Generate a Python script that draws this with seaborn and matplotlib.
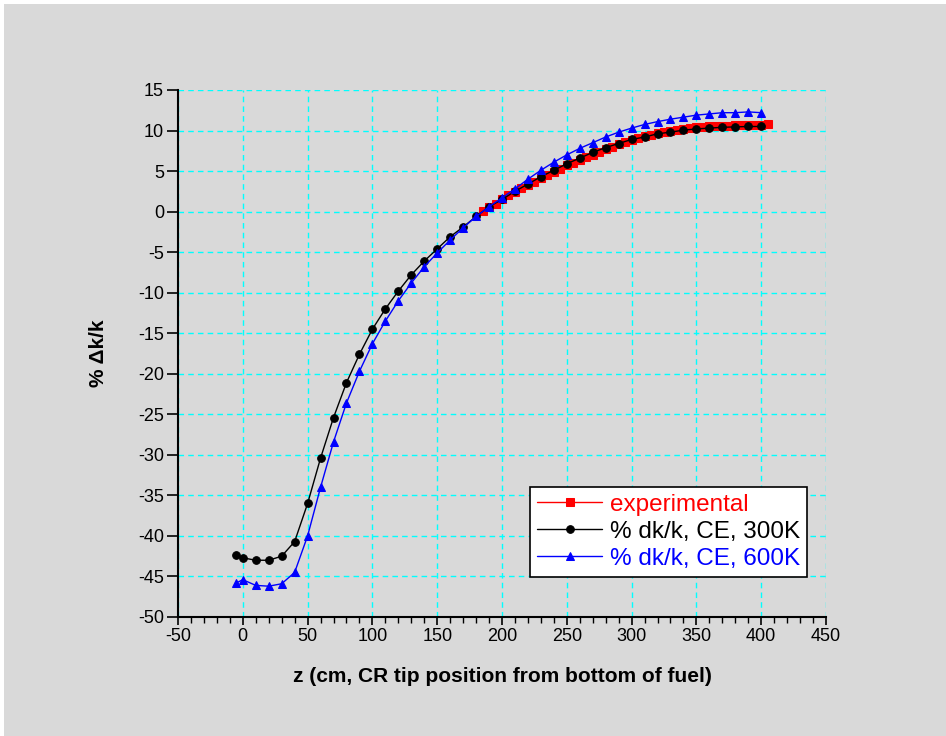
import pandas as pd
import matplotlib
matplotlib.use('Agg')
import matplotlib.pyplot as plt
from matplotlib.patches import Rectangle
from matplotlib.ticker import MultipleLocator
import seaborn as sns
import numpy as np

# posiciones z (cm) y valores %dk/k
z_exp = [185, 190, 195, 200, 205, 210, 215, 220, 225, 230, 235, 240, 245, 250, 255,
         260, 265, 270, 275, 280, 285, 290, 295, 300, 305, 310, 315, 320, 325, 330,
         335, 340, 345, 350, 355, 360, 365, 370, 375, 380, 385, 390, 395, 400, 405]
dk_exp = [0.1, 0.6, 1.0, 1.5, 2.0, 2.4, 2.9, 3.3, 3.7, 4.1, 4.5, 4.9, 5.3, 5.7, 6.0,
          6.4, 6.7, 7.0, 7.4, 7.7, 8.0, 8.3, 8.6, 8.8, 9.1, 9.3, 9.5, 9.7, 9.8, 10.0,
          10.1, 10.2, 10.3, 10.4, 10.45, 10.5, 10.55, 10.6, 10.6, 10.65, 10.65, 10.7, 10.7, 10.7, 10.75]

z_ce = [-5, 0, 10, 20, 30, 40, 50, 60, 70, 80, 90, 100, 110, 120, 130, 140, 150, 160,
        170, 180, 190, 200, 210, 220, 230, 240, 250, 260, 270, 280, 290, 300, 310, 320,
        330, 340, 350, 360, 370, 380, 390, 400]
dk_300 = [-42.4, -42.7, -43.0, -43.0, -42.5, -40.7, -36.0, -30.4, -25.4, -21.1, -17.6,
          -14.5, -12.0, -9.8, -7.8, -6.1, -4.6, -3.1, -1.9, -0.6, 0.6, 1.5, 2.5, 3.4,
          4.3, 5.1, 5.9, 6.6, 7.3, 7.9, 8.4, 8.9, 9.2, 9.6, 9.8, 10.05, 10.2, 10.3,
          10.4, 10.45, 10.5, 10.5]
dk_600 = [-45.8, -45.4, -46.1, -46.2, -45.9, -44.5, -40.0, -34.0, -28.4, -23.6, -19.7,
          -16.3, -13.5, -11.0, -8.8, -6.8, -5.1, -3.5, -2.0, -0.6, 0.6, 1.7, 2.8, 4.0,
          5.1, 6.1, 7.0, 7.8, 8.5, 9.2, 9.8, 10.3, 10.75, 11.1, 11.4, 11.65, 11.9, 12.05,
          12.2, 12.2, 12.3, 12.2]

sns.set_theme(style="ticks")
plt.rcParams['font.family'] = ['Liberation Sans', 'DejaVu Sans']
plt.rcParams['axes.unicode_minus'] = False

fig = plt.figure(figsize=(9.46, 7.36), dpi=100, facecolor='white')
fig.patches.append(Rectangle((4 / 946, 0), 1, 1 - 4 / 736, transform=fig.transFigure,
                             facecolor='#d9d9d9', edgecolor='none', zorder=-10))
ax = fig.add_axes([178 / 946, 1 - 617 / 736, 648 / 946, 527 / 736])
ax.set_facecolor('none')

sns.lineplot(x=z_exp, y=dk_exp, ax=ax, color='red', marker='s', markersize=5.5,
             markeredgecolor='red', linewidth=1, label='experimental', zorder=3)
sns.lineplot(x=z_ce, y=dk_300, ax=ax, color='black', marker='o', markersize=5.5,
             markeredgecolor='black', linewidth=1, label='% dk/k, CE, 300K', zorder=4)
sns.lineplot(x=z_ce, y=dk_600, ax=ax, color='blue', marker='^', markersize=6,
             markeredgecolor='blue', linewidth=1, label='% dk/k, CE, 600K', zorder=5)

ax.set_xlim(-50, 450)
ax.set_ylim(-50, 15)
ax.xaxis.set_major_locator(MultipleLocator(50))
ax.xaxis.set_minor_locator(MultipleLocator(10))
ax.yaxis.set_major_locator(MultipleLocator(5))
ax.grid(True, which='major', color='#00ffff', linestyle=(0, (4, 3)), linewidth=1)
ax.set_axisbelow(True)

for s in ['top', 'right']:
    ax.spines[s].set_visible(False)
for s in ['left', 'bottom']:
    ax.spines[s].set_linewidth(1.5)
    ax.spines[s].set_color('black')

ax.tick_params(axis='y', which='major', length=8, width=1.2, labelsize=13, colors='black',
               labelcolor='black', pad=2)
ax.tick_params(axis='x', which='major', length=6, width=1.2, labelsize=13, colors='black',
               labelcolor='black', pad=2)
ax.tick_params(axis='x', which='minor', length=4, width=1.0, colors='black')

ax.set_xlabel('z (cm, CR tip position from bottom of fuel)', fontsize=15, fontweight='bold',
              color='black', labelpad=16)
ax.set_ylabel('% Δk/k', fontsize=15, fontweight='bold', color='black', labelpad=22)

leg = ax.legend(loc='lower right', bbox_to_anchor=(0.971, 0.076), fontsize=17.5,
                frameon=True, fancybox=False, shadow=False, framealpha=1,
                handlelength=2.7, handletextpad=0.3, borderpad=0.3, labelspacing=0.2,
                borderaxespad=0)
leg.get_frame().set_edgecolor('black')
leg.get_frame().set_linewidth(1.2)
for txt, c in zip(leg.get_texts(), ['red', 'black', 'blue']):
    txt.set_color(c)

plt.savefig('out.png', dpi=100, facecolor=fig.get_facecolor())
plt.close()
